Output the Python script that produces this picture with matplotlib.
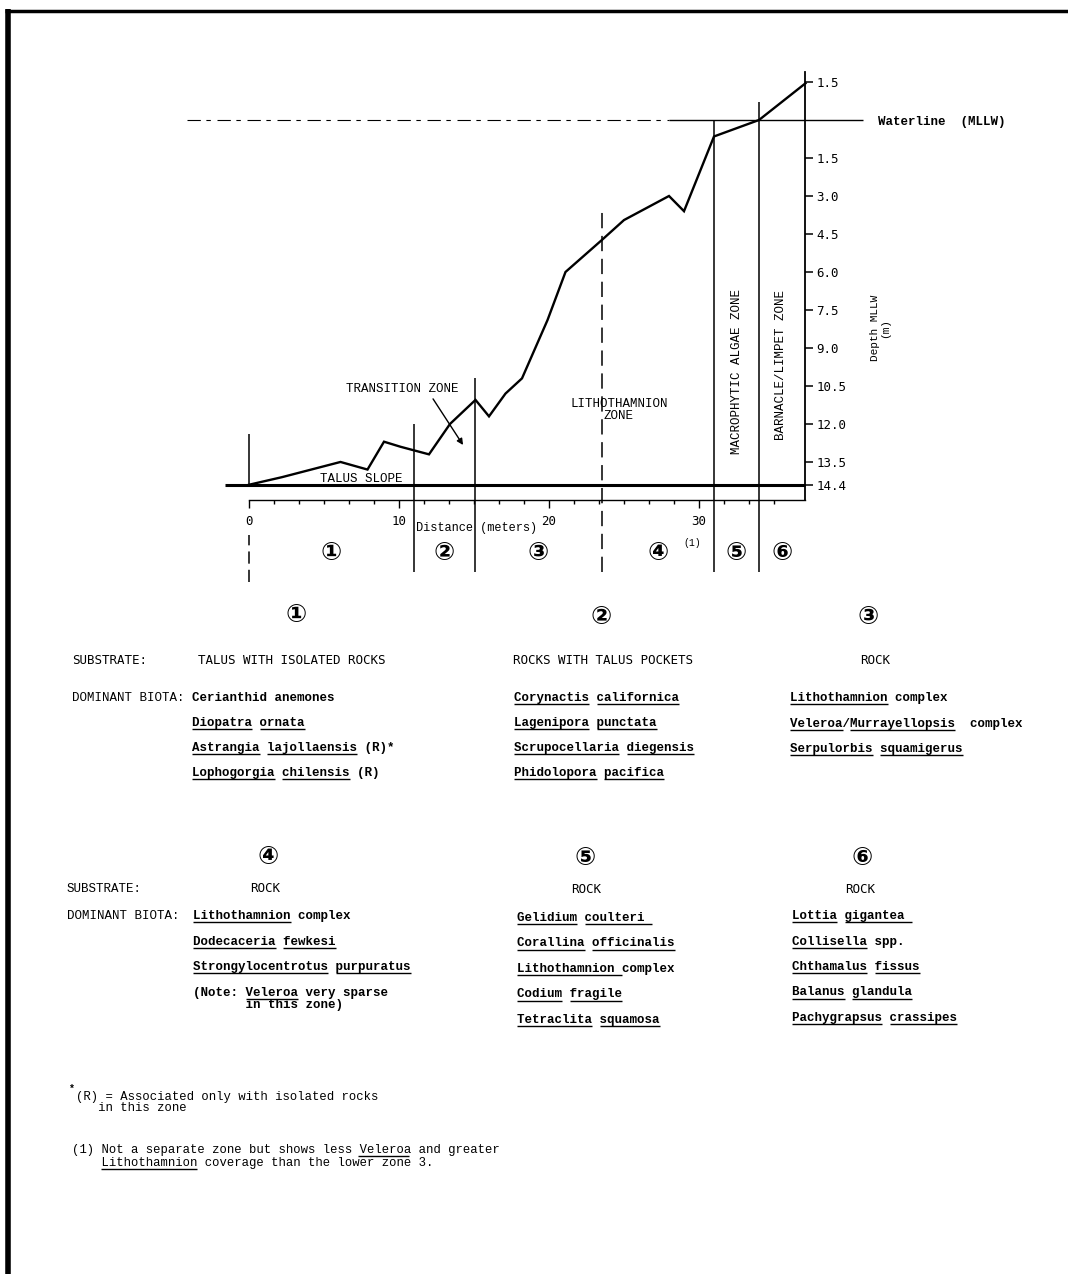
import numpy as np
import matplotlib
matplotlib.use("Agg")
import matplotlib.pyplot as plt
from matplotlib.ticker import FixedLocator

plt.rcParams['font.family'] = ['Liberation Mono', 'DejaVu Sans']

# bottom profile: distance along transect (m) and elevation vs MLLW (m)
dist = [0, 2.2, 6.1, 7.9, 9.0, 10.1, 12.0, 13.4, 15.1, 16.0, 17.1, 18.2,
        19.9, 21.1, 23.5, 25.0, 28.0, 29.0, 31.0, 34.0, 37.1]
elev = [-14.4, -14.1, -13.5, -13.8, -12.7, -12.9, -13.2, -12.0, -11.05, -11.7,
        -10.8, -10.2, -7.9, -6.0, -4.75, -3.95, -3.0, -3.6, -0.65, 0.0, 1.45]

depth_ticks = [1.5, -1.5, -3.0, -4.5, -6.0, -7.5, -9.0, -10.5, -12.0, -13.5, -14.4]
depth_labels = ['1.5', '1.5', '3.0', '4.5', '6.0', '7.5', '9.0', '10.5', '12.0', '13.5', '14.4']
dist_ticks = [0, 10, 20, 30]
dist_end = 37.07
base_depth = -14.4

# zone boundaries (m) and where each boundary line starts (elevation)
zone_x = [0, 11.0, 15.07, 23.5, 31.0, 34.0]
zone_top = [-12.4, -12.0, -10.2, -3.55, 0.0, 0.7]
zone_dash = [False, False, False, True, False, False]
zone_ids = ['①', '②', '③', '④', '⑤', '⑥']

# zone descriptions, [..] = underlined
substrate = ['TALUS WITH ISOLATED ROCKS', 'ROCKS WITH TALUS POCKETS', 'ROCK',
             'ROCK', 'ROCK', 'ROCK']
biota = [
    ['Cerianthid anemones', '[Diopatra] [ornata]',
     '[Astrangia] [lajollaensis] (R)*', '[Lophogorgia] [chilensis] (R)'],
    ['[Corynactis] [californica]', '[Lagenipora] [punctata]',
     '[Scrupocellaria] [diegensis]', '[Phidolopora] [pacifica]'],
    ['[Lithothamnion] complex', '[Veleroa]/[Murrayellopsis]  complex',
     '[Serpulorbis] [squamigerus]'],
    ['[Lithothamnion] complex', '[Dodecaceria] [fewkesi]',
     '[Strongylocentrotus] [purpuratus]',
     '(Note: [Veleroa] very sparse\n       in this zone)'],
    ['[Gelidium] [coulteri ]', '[Corallina] [officinalis]', '[Lithothamnion ]complex',
     '[Codium] [fragile]', '[Tetraclita] [squamosa]'],
    ['[Lottia] [gigantea ]', '[Collisella] spp.', '[Chthamalus] [fissus]',
     '[Balanus] [glandula]', '[Pachygrapsus] [crassipes]'],
]
notes = ['(R) = Associated only with isolated rocks\n   in this zone',
         '(1) Not a separate zone but shows less [Veleroa] and greater',
         '    [Lithothamnion] coverage than the lower zone 3.']

W, H = 1068, 1274
fig = plt.figure(figsize=(W / 100, H / 100), dpi=100)

# pixel mapping of the profile panel
X0, SX, Y0, SY = 249, 15.0, 120, 25.33
L, R, T, B = 180, 870, 60, 590
ax = fig.add_axes([L / W, 1 - B / H, (R - L) / W, (B - T) / H])
ax.set_xlim((L - X0) / SX, (R - X0) / SX)
ax.set_ylim((Y0 - B) / SY, (Y0 - T) / SY)
ax.patch.set_alpha(0)

ax.plot(dist, elev, color='k', lw=1.7, solid_joinstyle='miter')

# waterline
ax.hlines(0, -4.13, 28, color='k', lw=0.8, linestyles=(0, (12, 5, 4, 6)))
ax.hlines(0, 28, 40.9, color='k', lw=1.0)
# talus base line
ax.hlines(base_depth, -1.6, dist_end, color='k', lw=2.2)

axis_y = (Y0 - 500) / SY
low = (Y0 - 572) / SY
for zx, zt, zd in zip(zone_x, zone_top, zone_dash):
    if zx == 0:
        ax.vlines(zx, base_depth, zt, color='k', lw=1.1)
        ax.vlines(zx, (Y0 - 582) / SY, (Y0 - 535) / SY, color='k', lw=1.1,
                  linestyles=(0, (8, 4)))
    else:
        ax.vlines(zx, low, zt, color='k', lw=1.1,
                  linestyles=(0, (10, 5)) if zd else 'solid')

# circled zone numbers on profile
edges = zone_x + [dist_end]
for i, zid in enumerate(zone_ids):
    mid = (edges[i] + edges[i + 1]) / 2
    ax.text(mid, (Y0 - 553) / SY, zid, fontsize=18, ha='center', va='center',
            family=['DejaVu Sans'], weight='bold')

ax.annotate('', xy=(14.27, -12.83), xytext=(12.27, -11.01),
            arrowprops=dict(arrowstyle='-|>', color='k', lw=1.0,
                            mutation_scale=9, shrinkA=0, shrinkB=0))

for s in ['left', 'top']:
    ax.spines[s].set_visible(False)
ax.spines['right'].set_position(('data', dist_end))
ax.spines['right'].set_bounds(axis_y, 1.9)
ax.spines['right'].set_linewidth(1.3)
ax.spines['bottom'].set_position(('data', axis_y))
ax.spines['bottom'].set_bounds(0, dist_end)
ax.spines['bottom'].set_linewidth(1.0)

ax.yaxis.tick_right()
ax.set_yticks(depth_ticks)
ax.set_yticklabels(depth_labels, family=['DejaVu Sans Mono'])
ax.tick_params(axis='y', direction='out', length=6, width=1.1, pad=2,
               labelsize=9)
ax.set_xticks(dist_ticks)
ax.set_xticklabels([str(d) for d in dist_ticks], family=['DejaVu Sans Mono'])
ax.xaxis.set_minor_locator(FixedLocator(np.arange(0, 35.1, 5 / 3)))
ax.tick_params(axis='x', which='major', direction='out', length=6, width=1.0,
               pad=5, labelsize=9)
ax.tick_params(axis='x', which='minor', direction='out', length=3, width=1.0)

# overlay in pixel units for the text blocks
tx = fig.add_axes([0, 0, 1, 1])
tx.set_xlim(0, W)
tx.set_ylim(H, 0)
tx.axis('off')
tx.patch.set_alpha(0)

FS = 9


def put(x, y, s, bold=True, fs=FS, step=12):
    cw = 0.6 * fs * 100 / 72
    for k, row in enumerate(s.split('\n')):
        yy = y + k * step
        plain = row.replace('[', '').replace(']', '')
        tx.text(x, yy, plain, fontsize=fs, va='baseline', ha='left',
                weight='bold' if bold else 'normal')
        pos, start = 0, 0
        for ch in row:
            if ch == '[':
                start = pos
            elif ch == ']':
                tx.plot([x + start * cw, x + pos * cw], [yy + 3, yy + 3],
                        color='k', lw=1.0, solid_capstyle='butt')
            else:
                pos += 1


def centered(x, y, s, fam='DejaVu Sans Mono', bold=False):
    tx.text(x, y, s, fontsize=FS, va='baseline', ha='center', family=[fam],
            weight='bold' if bold else 'normal')


# chart labels
put(346, 392, 'TRANSITION ZONE', bold=False)
put(571, 407, 'LITHOTHAMNION', bold=False)
put(603, 419, 'ZONE', bold=False)
put(320, 482, 'TALUS SLOPE', bold=False)
put(416, 531, 'Distance (meters)', bold=False, fs=8.6)
put(683, 546, '(1)', bold=False, fs=7)
put(878, 125, 'Waterline  (MLLW)')
tx.text(737, 371, 'MACROPHYTIC ALGAE ZONE', fontsize=FS, rotation=90,
        ha='center', va='center')
tx.text(781, 365, 'BARNACLE/LIMPET ZONE', fontsize=FS, rotation=90,
        ha='center', va='center')
tx.text(880, 328, 'Depth MLLW\n(m)', fontsize=8, rotation=90, ha='center',
        va='center', multialignment='center', linespacing=1.0)

# zone description blocks
circ_xy = [(296, 615), (601, 617), (868, 617), (268, 857), (585, 858), (862, 858)]
sub_xy = [(292, 664), (603, 664), (875, 664), (265, 892), (586, 893), (860, 893)]
list_x = [192, 514, 790, 193, 517, 792]
list_y0 = [701, 701, 701, 919, 921, 919]
list_dy = [25, 25, 25.5, 25.7, 25.5, 25.5]

for i in range(6):
    tx.text(*circ_xy[i], zone_ids[i], fontsize=18, ha='center', va='center',
            family=['DejaVu Sans'], weight='bold')
    centered(*sub_xy[i], substrate[i])
    for j, item in enumerate(biota[i]):
        put(list_x[i], list_y0[i] + j * list_dy[i], item)

centered(110, 664, 'SUBSTRATE:', fam='DejaVu Sans Mono')
put(72, 701, 'DOMINANT BIOTA:', bold=False)
put(67, 892, 'SUBSTRATE:', bold=False)
put(67, 919, 'DOMINANT BIOTA:', bold=False)

# footnotes
tx.text(69, 1092, '*', fontsize=7, ha='left', va='baseline', weight='bold')
put(76, 1100, notes[0], bold=False, fs=8.8, step=11)
put(72, 1153, notes[1], bold=False, fs=8.8)
put(72, 1166, notes[2], bold=False, fs=8.8)

# page border from the scan
tx.plot([5, W], [11, 11], color='k', lw=2.5, solid_capstyle='butt')
tx.plot([7.5, 7.5], [9, H], color='k', lw=4, solid_capstyle='butt')

fig.savefig('out.png', dpi=100)
